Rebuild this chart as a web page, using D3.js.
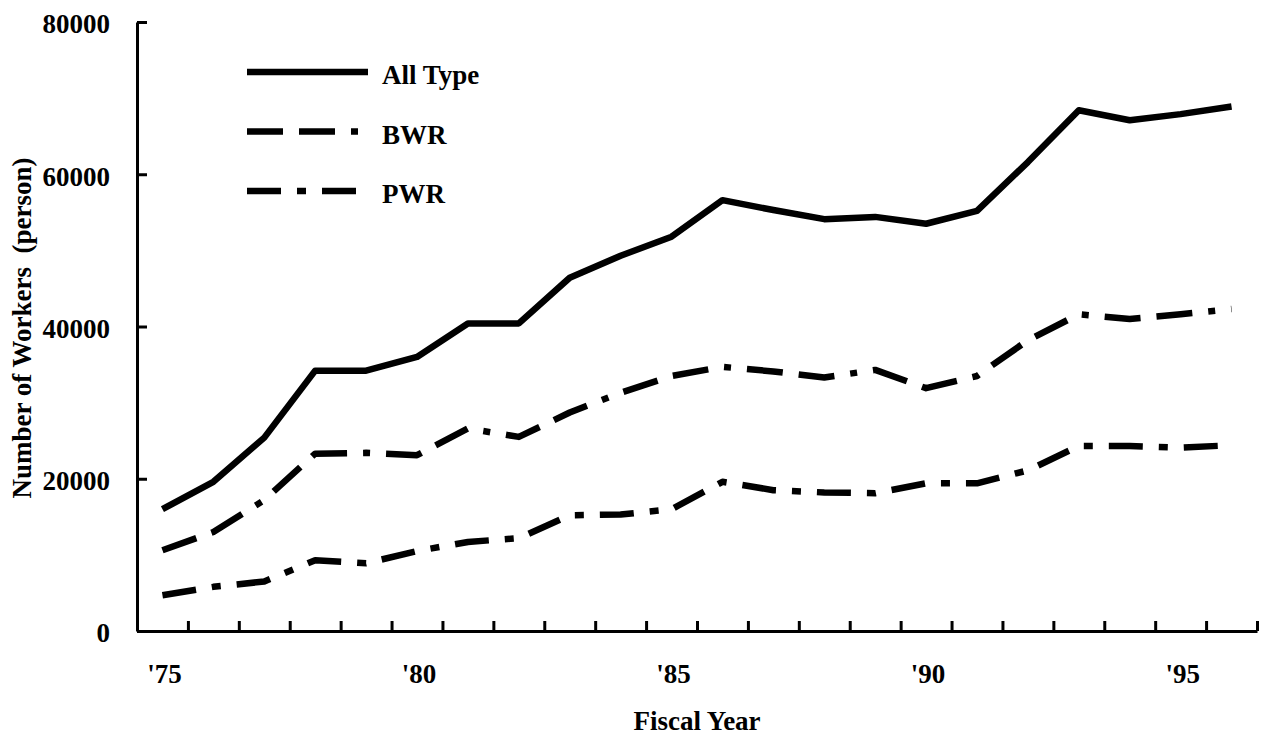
<!DOCTYPE html>
<html>
<head>
<meta charset="utf-8">
<script src="https://cdn.jsdelivr.net/npm/d3@7"></script>
<style>
  body { margin: 0; background: #fff; }
  text { font-family: "Liberation Serif", "Times New Roman", serif; font-weight: bold; fill: #000; }
</style>
</head>
<body>
<div id="chart"></div>
<script>
// fiscal years 1975-1996, labelled every 5 years
var years = d3.range(1975, 1997);
var xTickYears = [1975, 1980, 1985, 1990, 1995];
var xTickLabels = ["'75", "'80", "'85", "'90", "'95"];
var yTicks = [0, 20000, 40000, 60000, 80000];

var allType = [16000, 19600, 25400, 34200, 34200, 36000, 40400, 40400, 46400, 49300, 51800, 56600,
               55300, 54100, 54400, 53500, 55200, 61600, 68400, 67100, 67900, 68900];
var bwr = [10600, 13000, 17200, 23300, 23400, 23100, 26600, 25500, 28700, 31300, 33500, 34700,
           34100, 33300, 34300, 31900, 33500, 38200, 41600, 41000, 41600, 42300];
var pwr = [4700, 5800, 6500, 9300, 8900, 10500, 11700, 12200, 15200, 15300, 16000, 19600,
           18500, 18200, 18100, 19400, 19400, 21100, 24300, 24300, 24100, 24400];

var seriesNames = ["All Type", "BWR", "PWR"];
var seriesValues = [allType, bwr, pwr];
var dashes = [null, "36,16,36,16,7,16", "34,16,9,16"];

// Set up the chart
var svgWidth = 1263;
var svgHeight = 738;
var margin = { top: 22, right: 6, bottom: 107, left: 137 };
var width = svgWidth - margin.left - margin.right;
var height = svgHeight - margin.top - margin.bottom;

var svg = d3.select("#chart").append("svg")
    .attr("width", svgWidth)
    .attr("height", svgHeight);

var chartGroup = svg.append("g")
    .attr("transform", `translate(${margin.left}, ${margin.top})`);

// scales
var xBand = d3.scaleBand().domain(years).range([0, width]);
var xEdge = d3.scaleLinear().domain([0, years.length]).range([0, width]);
var yLinearScale = d3.scaleLinear().domain([0, 80000]).range([height, 0]);

// x axis: ticks between years, pointing inward
var bottomAxis = d3.axisBottom(xEdge)
    .tickValues(d3.range(1, years.length + 1))
    .tickSize(-10)
    .tickSizeOuter(0)
    .tickFormat("");

chartGroup.append("g")
    .attr("transform", `translate(0, ${height})`)
    .call(bottomAxis);

// year labels
var labelAxis = d3.axisBottom(xBand)
    .tickValues(xTickYears)
    .tickSize(0)
    .tickFormat(function (d, i) { return xTickLabels[i]; });

var xLabelG = chartGroup.append("g")
    .attr("transform", `translate(0, ${height})`)
    .call(labelAxis);
xLabelG.select(".domain").remove();
xLabelG.selectAll("text")
    .attr("font-size", "27px")
    .attr("font-family", null)
    .attr("y", 52)
    .attr("dy", 0)
    .attr("dx", 2);

var leftAxis = d3.axisLeft(yLinearScale)
    .tickValues(yTicks)
    .tickSize(-10)
    .tickSizeOuter(0)
    .tickPadding(27)
    .tickFormat(d3.format("d"));

var yAxisG = chartGroup.append("g").call(leftAxis);
yAxisG.selectAll("text")
    .attr("font-size", "27px")
    .attr("font-family", null)
    .attr("dy", "0.4em");

chartGroup.selectAll(".domain").attr("stroke-width", 3);
chartGroup.selectAll(".tick line").attr("stroke-width", 3);

// lines
var line = d3.line()
    .x((d, i) => xBand(years[i]) + xBand.bandwidth() / 2)
    .y(d => yLinearScale(d));

seriesValues.forEach(function (vals, k) {
    chartGroup.append("path")
        .datum(vals)
        .attr("fill", "none")
        .attr("stroke", "#000")
        .attr("stroke-width", 6.5)
        .attr("stroke-linejoin", "round")
        .attr("stroke-dasharray", dashes[k])
        .attr("d", line);
});

// legend
var legend = chartGroup.append("g")
    .attr("transform", "translate(110, 50)");

seriesNames.forEach(function (name, k) {
    var row = legend.append("g").attr("transform", `translate(0, ${k * 59.5})`);
    row.append("line")
        .attr("x1", 0).attr("x2", 121)
        .attr("stroke", "#000")
        .attr("stroke-width", 6.5)
        .attr("stroke-dasharray", dashes[k]);
    row.append("text")
        .attr("x", 135)
        .attr("y", 12)
        .attr("font-size", "27px")
        .text(name);
});

// axis titles
chartGroup.append("text")
    .attr("transform", "rotate(-90)")
    .attr("x", -306)
    .attr("y", 31 - margin.left)
    .attr("text-anchor", "middle")
    .attr("font-size", "27px")
    .style("white-space", "pre")
    .text("Number of Workers  (person)");

chartGroup.append("text")
    .attr("transform", `translate(${width / 2}, ${height + 99})`)
    .attr("text-anchor", "middle")
    .attr("font-size", "27px")
    .text("Fiscal Year");
</script>
</body>
</html>
